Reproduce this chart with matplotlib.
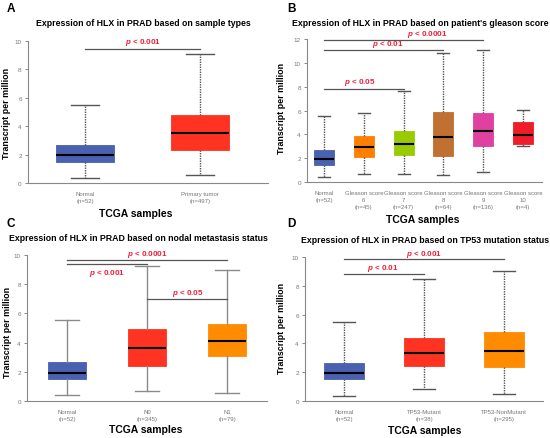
import matplotlib
matplotlib.use("Agg")
import matplotlib.pyplot as plt

plt.rcParams["font.family"] = ["Liberation Sans", "DejaVu Sans"]
plt.rcParams["mathtext.fontset"] = "custom"
plt.rcParams["mathtext.it"] = "Liberation Sans:italic:bold"
plt.rcParams["mathtext.rm"] = "Liberation Sans:bold"

# ---- data ----
a_labels = ["Normal\n(n=52)", "Primary tumor\n(n=497)"]
a_min = [0.35, 0.55]
a_q1 = [1.5, 2.35]
a_med = [1.95, 3.5]
a_q3 = [2.65, 4.8]
a_max = [5.5, 9.05]
a_colors = ["#4A60B0", "#FF3322"]

b_labels = ["Normal\n(n=52)", "Gleason score\n6\n(n=45)", "Gleason score\n7\n(n=247)",
            "Gleason score\n8\n(n=64)", "Gleason score\n9\n(n=136)", "Gleason score\n10\n(n=4)"]
b_min = [0.4, 0.65, 0.65, 0.55, 0.8, 3.05]
b_q1 = [1.45, 2.1, 2.25, 2.2, 3.0, 3.2]
b_med = [1.95, 2.9, 3.2, 3.8, 4.25, 3.95]
b_q3 = [2.65, 3.9, 4.3, 5.9, 5.8, 5.0]
b_max = [5.5, 5.8, 7.6, 10.85, 11.05, 6.05]
b_colors = ["#4A60B0", "#FF8000", "#99CC00", "#C07030", "#E040A0", "#F01C28"]

c_labels = ["Normal\n(n=52)", "N0\n(n=345)", "N1\n(n=79)"]
c_min = [0.4, 0.7, 0.55]
c_q1 = [1.5, 2.4, 3.05]
c_med = [1.95, 3.6, 4.1]
c_q3 = [2.65, 4.9, 5.3]
c_max = [5.55, 9.25, 9.0]
c_colors = ["#4A60B0", "#FF3322", "#FF8C00"]

d_labels = ["Normal\n(n=52)", "TP53-Mutant\n(n=38)", "TP53-NonMutant\n(n=295)"]
d_min = [0.35, 0.8, 0.5]
d_q1 = [1.5, 2.45, 2.35]
d_med = [1.95, 3.35, 3.5]
d_q3 = [2.65, 4.35, 4.8]
d_max = [5.5, 8.5, 9.05]
d_colors = ["#4A60B0", "#FF3322", "#FF8C00"]

# brackets: (from, to, line y, text, text x, text y)
a_sig = [(1, 2, 9.45, "p < 0.001", 1.5, 9.95)]
b_sig = [(1, 5, 11.9, "p < 0.0001", 3.59, 12.5),
         (1, 4, 11.1, "p < 0.01", 2.6, 11.6),
         (1, 3, 7.8, "p < 0.05", 1.9, 8.4)]
c_sig = [(1, 3, 9.68, "p < 0.0001", 2.0, 10.1),
         (1, 2, 9.38, "p < 0.001", 1.5, 8.8),
         (2, 3, 6.96, "p < 0.05", 2.51, 7.4)]
d_sig = [(1, 3, 9.84, "p < 0.001", 2.0, 10.25),
         (1, 2, 8.84, "p < 0.01", 1.49, 9.25)]

W, H = 550, 439
fig = plt.figure(figsize=(5.5, 4.39), dpi=100)


def px_axes(x0, y0, x1, y1):
    return fig.add_axes([x0 / W, 1 - y1 / H, (x1 - x0) / W, (y1 - y0) / H])


def ftext(x, y, s, **kw):
    fig.text(x / W, 1 - y / H, s, ha="center", va="center", **kw)


def panel(ax, labels, mn, q1, med, q3, mx, colors, sig, ymax, xlim, width, capw, dotted):
    stats = [dict(whislo=mn[i], q1=q1[i], med=med[i], q3=q3[i], whishi=mx[i], fliers=[])
             for i in range(len(labels))]
    ls = (0, (1, 0.8)) if dotted else "-"
    wcol = "#555555" if dotted else "#8a8a8a"
    res = ax.bxp(stats, positions=range(1, len(labels) + 1), widths=width, patch_artist=True,
                 showfliers=False, capwidths=capw,
                 whiskerprops=dict(color=wcol, linestyle=ls, linewidth=1.0),
                 capprops=dict(color=wcol, linewidth=1.0),
                 medianprops=dict(color="black", linewidth=1.5))
    for box, col in zip(res["boxes"], colors):
        box.set_facecolor(col)
        box.set_edgecolor(col)
        box.set_linewidth(0.6)
    for x0, x1, ly, txt, tx, ty in sig:
        ax.plot([x0, x1], [ly, ly], color="#555555", linewidth=0.9, clip_on=False)
        ax.text(tx, ty, "$p$" + txt[1:], color="#F0203C", fontsize=5.8, fontweight="bold",
                ha="center", va="center", clip_on=False)
    ax.set_ylim(0, ymax)
    ax.set_xlim(*xlim)
    ax.set_yticks(range(0, ymax + 1, 2))
    ax.set_xticks(range(1, len(labels) + 1))
    ax.set_xticklabels(labels, linespacing=1.45)
    ax.tick_params(axis="x", length=0, labelsize=4.3, labelcolor="#777777", pad=6)
    ax.tick_params(axis="y", length=2.5, width=0.7, color="#888888", labelsize=4.5,
                   labelcolor="#777777", pad=2)
    for s in ["top", "right"]:
        ax.spines[s].set_visible(False)
    for s in ["left", "bottom"]:
        ax.spines[s].set_color("#888888")
        ax.spines[s].set_linewidth(0.8)
    ax.set_facecolor("none")


ax_a = px_axes(28, 42, 268, 184)
panel(ax_a, a_labels, a_min, a_q1, a_med, a_q3, a_max, a_colors, a_sig, 10,
      (0.504, 2.59), 0.5, 0.24, True)
ax_b = px_axes(307, 40, 542, 183)
panel(ax_b, b_labels, b_min, b_q1, b_med, b_q3, b_max, b_colors, b_sig, 12,
      (0.57, 6.48), 0.5, 0.3, True)
ax_c = px_axes(27, 256, 267, 402)
panel(ax_c, c_labels, c_min, c_q1, c_med, c_q3, c_max, c_colors, c_sig, 10,
      (0.5, 3.5), 0.47, 0.3, False)
ax_d = px_axes(305, 258, 543, 402)
panel(ax_d, d_labels, d_min, d_q1, d_med, d_q3, d_max, d_colors, d_sig, 10,
      (0.51, 3.49), 0.5, 0.28, True)

# titles, axis labels and panel letters
ftext(143, 24, "Expression of HLX in PRAD based on sample types", fontsize=6.3, fontweight="bold")
ftext(420, 24, "Expression of HLX in PRAD based on patient's gleason score", fontsize=6.3, fontweight="bold")
ftext(138, 239, "Expression of HLX in PRAD based on nodal metastasis status", fontsize=6.3, fontweight="bold")
ftext(425, 241, "Expression of HLX in PRAD based on TP53 mutation status", fontsize=6.3, fontweight="bold")

ftext(136, 214, "TCGA samples", fontsize=7.5, fontweight="bold")
ftext(423, 220, "TCGA samples", fontsize=7.5, fontweight="bold")
ftext(146, 430, "TCGA samples", fontsize=7.5, fontweight="bold")
ftext(425, 431, "TCGA samples", fontsize=7.5, fontweight="bold")

ftext(7, 113, "Transcript per million", fontsize=6.4, fontweight="bold", rotation=90)
ftext(282, 108, "Transcript per million", fontsize=6.4, fontweight="bold", rotation=90)
ftext(8, 332, "Transcript per million", fontsize=6.4, fontweight="bold", rotation=90)
ftext(282, 328, "Transcript per million", fontsize=6.4, fontweight="bold", rotation=90)

ftext(11, 9, "A", fontsize=8.5, fontweight="bold")
ftext(292, 9, "B", fontsize=8.5, fontweight="bold")
ftext(11, 224, "C", fontsize=8.5, fontweight="bold")
ftext(291, 224, "D", fontsize=8.5, fontweight="bold")

fig.savefig("out.png", dpi=100)
